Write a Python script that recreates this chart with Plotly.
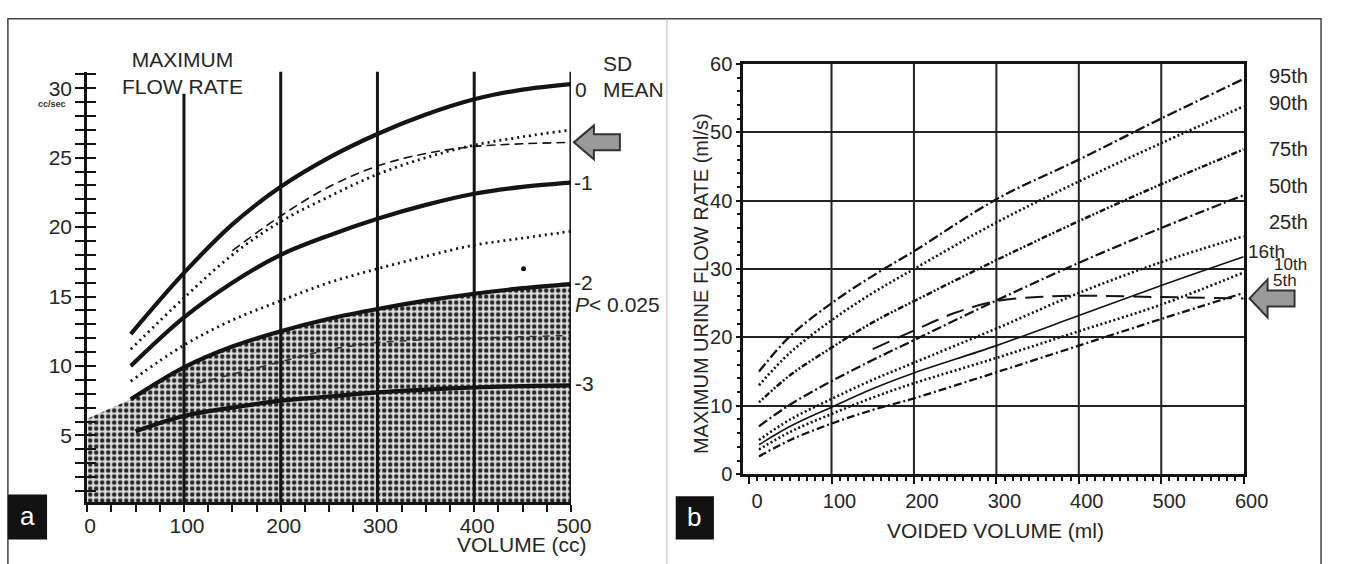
import plotly.graph_objects as go

W, H = 1348, 564
FONT = "Liberation Sans, Arial, sans-serif"
INK = "#141414"
TXT = "#262626"

# ---------------- Panel a data (volume cc -> max flow cc/sec) ----------------
vol_a = [45, 100, 150, 200, 250, 300, 350, 400, 450, 500]
sd0_mean = [12.3, 16.7, 20.2, 22.9, 25.0, 26.7, 28.1, 29.2, 29.9, 30.3]
sd_minus1 = [10.0, 13.5, 16.0, 18.0, 19.4, 20.6, 21.6, 22.4, 22.9, 23.2]
sd_minus2 = [7.6, 9.9, 11.4, 12.5, 13.4, 14.1, 14.7, 15.2, 15.6, 15.9]
vol_a3 = [50, 100, 150, 200, 250, 300, 350, 400, 450, 500]
sd_minus3 = [5.3, 6.4, 7.0, 7.5, 7.8, 8.1, 8.3, 8.45, 8.55, 8.6]
dotted_upper = [11.2, 14.9, 18.0, 20.4, 22.2, 23.8, 25.0, 25.9, 26.5, 27.0]
dotted_lower = [8.9, 11.5, 13.3, 14.7, 16.0, 17.0, 17.9, 18.7, 19.2, 19.7]
vol_dash_a = [150, 200, 250, 300, 350, 400, 450, 500]
dashed_a = [18.3, 20.8, 22.9, 24.4, 25.3, 25.8, 26.0, 26.1]
vol_inner = [100, 150, 200, 250, 300, 350, 400, 450, 500]
inner_dash = [8.5, 9.4, 10.3, 11.2, 11.7, 11.9, 12.0, 12.1, 12.2]
shade_lead_x = [0, 20]
shade_lead_y = [6.2, 6.8]
dot_x = [451]
dot_y = [17.0]
grid_a = [100, 200, 300, 400, 500]
xticks_a = [0, 100, 200, 300, 400, 500]
yticks_a = [5, 10, 15, 20, 25, 30]

# ---------------- Panel b data (voided volume ml -> Qmax ml/s) ----------------
vol_b = [12, 50, 100, 150, 200, 300, 400, 500, 600]
p95 = [15.0, 20.2, 25.0, 29.0, 32.6, 40.2, 46.0, 52.0, 57.8]
p90 = [13.0, 17.8, 22.5, 26.5, 30.0, 36.8, 42.8, 48.4, 53.8]
p75 = [10.5, 14.5, 18.5, 22.2, 25.3, 31.3, 37.0, 42.4, 47.5]
p50 = [7.0, 10.2, 13.6, 16.7, 19.6, 25.4, 30.9, 36.0, 40.8]
p25 = [5.0, 8.0, 11.0, 13.8, 16.3, 21.3, 26.5, 31.0, 34.8]
p16 = [4.3, 7.0, 9.8, 12.5, 14.8, 18.8, 23.2, 27.6, 31.8]
p10 = [3.6, 6.2, 8.8, 11.2, 13.3, 17.0, 20.9, 24.8, 29.5]
p05 = [2.6, 5.0, 7.4, 9.4, 11.1, 14.9, 18.8, 22.7, 26.5]
vol_dash_b = [150, 200, 250, 300, 350, 400, 500, 600]
dashed_b = [18.3, 21.0, 23.6, 25.3, 25.9, 26.1, 25.9, 25.7]
grid_b = [100, 200, 300, 400, 500]
xticks_b = [0, 100, 200, 300, 400, 500, 600]


def px(x):
    return x / W


def py(y):
    return 1 - y / H


fig = go.Figure()

# ---- panel a traces ----
fig.add_trace(go.Scatter(
    x=shade_lead_x + vol_a, y=shade_lead_y + sd_minus2, mode="lines",
    line=dict(width=0), fill="tozeroy",
    fillpattern=dict(shape=".", size=6, solidity=0.45, fgcolor="#262626",
                     bgcolor="#dedede", fillmode="replace"),
    xaxis="x", yaxis="y", hoverinfo="skip"))
fig.add_trace(go.Scatter(x=vol_inner, y=inner_dash, mode="lines",
                         line=dict(color="#333", width=1.5, dash="7px,6px"),
                         xaxis="x", yaxis="y"))
for ys, xs in [(sd0_mean, vol_a), (sd_minus1, vol_a), (sd_minus2, vol_a), (sd_minus3, vol_a3)]:
    fig.add_trace(go.Scatter(x=xs, y=ys, mode="lines", line=dict(color=INK, width=4.2, shape="spline"),
                             xaxis="x", yaxis="y"))
for ys in [dotted_upper, dotted_lower]:
    fig.add_trace(go.Scatter(x=vol_a, y=ys, mode="lines",
                             line=dict(color=INK, width=2.8, dash="2px,4px", shape="spline"),
                             xaxis="x", yaxis="y"))
fig.add_trace(go.Scatter(x=vol_dash_a, y=dashed_a, mode="lines",
                         line=dict(color=INK, width=1.6, dash="9px,5px", shape="spline"),
                         xaxis="x", yaxis="y"))
fig.add_trace(go.Scatter(x=dot_x, y=dot_y, mode="markers", marker=dict(color=INK, size=5),
                         xaxis="x", yaxis="y3"))

# ---- panel b traces ----
styles_b = [
    (p95, "10px,3px,2px,3px", 2.3),
    (p90, "2px,2.5px", 2.6),
    (p75, "2px,2px,2px,2px,6px,2px", 2.5),
    (p50, "10px,3px,2px,3px", 2.3),
    (p25, "2px,2.5px", 2.6),
    (p16, "solid", 1.6),
    (p10, "2px,2.5px", 2.6),
    (p05, "8px,3px,2px,3px", 2.3),
]
for ys, dash, wd in styles_b:
    fig.add_trace(go.Scatter(x=vol_b, y=ys, mode="lines",
                             line=dict(color=INK, width=wd, dash=dash, shape="spline"),
                             xaxis="x2", yaxis="y2"))
fig.add_trace(go.Scatter(x=vol_dash_b, y=dashed_b, mode="lines",
                         line=dict(color=INK, width=2, dash="18px,9px", shape="spline"),
                         xaxis="x2", yaxis="y2"))

shapes = []
# panel a vertical grid lines
for g in grid_a:
    shapes.append(dict(type="line", xref="x", yref="y", x0=g, x1=g, y0=0.2,
                       y1=29.6 if g == 100 else 31.2,
                       line=dict(color=INK, width=3), layer="above"))
# panel b vertical grid lines
for g in grid_b:
    shapes.append(dict(type="line", xref="x2", yref="y2", x0=g, x1=g, y0=0, y1=60,
                       line=dict(color="#222", width=2), layer="below"))

# block arrows (tip points at the dashed curve's end value)
arrow_path = "M 0 0 L 20 17 L 20 8 L 46 8 L 46 -8 L 20 -8 L 20 -17 Z"
shapes.append(dict(type="path", xref="paper", yref="y", xsizemode="pixel", ysizemode="pixel",
                   xanchor=px(583), yanchor=dashed_a[-1], path=arrow_path,
                   fillcolor="#9a9a9a", line=dict(color="#333", width=2), layer="above"))
shapes.append(dict(type="path", xref="paper", yref="y2", xsizemode="pixel", ysizemode="pixel",
                   xanchor=px(1273), yanchor=dashed_b[-1],
                   path="M 0 0 L 18 19 L 18 8 L 45 8 L 45 -8 L 18 -8 L 18 -19 Z",
                   fillcolor="#9a9a9a", line=dict(color="#333", width=2), layer="above"))

# outer frame + divider + panel letter boxes
shapes.append(dict(type="rect", xref="paper", yref="paper", x0=px(5), x1=px(1346), y0=py(600), y1=py(8),
                   line=dict(color="#444", width=1.5)))
shapes.append(dict(type="line", xref="paper", yref="paper", x0=px(678), x1=px(678), y0=py(600), y1=py(8),
                   line=dict(color="#bbb", width=1)))
shapes.append(dict(type="rect", xref="paper", yref="paper", x0=px(5), x1=px(45), y0=py(550), y1=py(503),
                   fillcolor="#111", line=dict(width=0)))
shapes.append(dict(type="rect", xref="paper", yref="paper", x0=px(687), x1=px(726), y0=py(550), y1=py(505),
                   fillcolor="#111", line=dict(width=0)))


def ann(text, x, y, size=21, xanchor="center", color=TXT, **kw):
    d = dict(text=text, x=px(x), y=py(y), xref="paper", yref="paper", showarrow=False,
             xanchor=xanchor, yanchor="middle", font=dict(family=FONT, size=size, color=color))
    d.update(kw)
    return d


annotations = [
    ann("MAXIMUM<br>FLOW RATE", 183, 65),
    ann("SD", 611, 55, xanchor="left"),
    ann("0", 582, 82, xanchor="left"),
    ann("MEAN", 611, 82, xanchor="left"),
    ann("-1", 581, 178, xanchor="left"),
    ann("-2", 581, 283, xanchor="left"),
    ann("<i>P</i>< 0.025", 582, 305, xanchor="left"),
    ann("-3", 582, 388, xanchor="left"),
    ann("<b>cc/sec</b>", 50, 97, size=9, color="#333"),
    ann("VOLUME (cc)", 530, 555),
    ann("a", 25, 526, size=26, color="white"),
    ann("b", 706, 527, size=26, color="white"),
    ann("MAXIMUM URINE FLOW RATE (ml/s)", 713, 284, size=20, textangle=-90),
    ann("VOIDED VOLUME (ml)", 1014, 541, size=21),
    ann("95th", 1291, 68, size=20, xanchor="left"),
    ann("90th", 1291, 96, size=20, xanchor="left"),
    ann("75th", 1291, 144, size=20, xanchor="left"),
    ann("50th", 1291, 182, size=20, xanchor="left"),
    ann("25th", 1291, 220, size=20, xanchor="left"),
    ann("16th", 1269, 250, size=19, xanchor="left"),
    ann("10th", 1296, 264, size=17, xanchor="left"),
    ann("5th", 1295, 280, size=17, xanchor="left"),
]

tickfont = dict(family=FONT, size=21, color=TXT)
tickfont_b = dict(family=FONT, size=20, color=TXT)

dom_xa = [px(86), px(580)]
dom_ya = [py(511), py(63)]
dom_xb = [px(756), px(1267)]
dom_yb = [py(482), py(55)]

fig.update_layout(
    width=W, height=H, margin=dict(l=0, r=0, t=0, b=0),
    paper_bgcolor="white", plot_bgcolor="rgba(0,0,0,0)", showlegend=False,
    font=dict(family=FONT, color=TXT),
    xaxis=dict(domain=dom_xa, range=[0, 500], anchor="y", tickvals=xticks_a,
               ticks="outside", ticklen=7, tickwidth=2, tickcolor=INK,
               minor=dict(dtick=25, tick0=0, ticks="outside", ticklen=7, tickwidth=2, tickcolor=INK),
               showline=True, linewidth=3, linecolor=INK, showgrid=False, zeroline=False,
               tickfont=tickfont, ticklabelshift=3, ticklabelstandoff=-4),
    yaxis=dict(domain=dom_ya, range=[0.2, 31.2], anchor="x", tickvals=yticks_a,
               ticks="outside", ticklen=9, tickwidth=2, tickcolor=INK,
               minor=dict(dtick=1, tick0=0, ticks="outside", ticklen=9, tickwidth=2, tickcolor=INK),
               showline=True, linewidth=3, linecolor=INK, showgrid=False, zeroline=False,
               tickfont=tickfont, ticklabelstandoff=-1),
    yaxis3=dict(domain=dom_ya, range=[0.2, 31.2], anchor="x", overlaying="y", side="left",
                tickvals=yticks_a, ticks="inside", ticklen=9, tickwidth=2, tickcolor=INK,
                minor=dict(dtick=1, tick0=0, ticks="inside", ticklen=9, tickwidth=2, tickcolor=INK),
                showticklabels=False, showline=False, showgrid=False, zeroline=False),
    xaxis2=dict(domain=dom_xb, range=[-7, 600], anchor="y2", tickvals=xticks_b,
                ticks="outside", ticklen=7, tickwidth=2, tickcolor=INK,
                minor=dict(dtick=10, tick0=0, ticks="outside", ticklen=4, tickwidth=2, tickcolor=INK),
                showline=True, linewidth=3, linecolor=INK, mirror=True, showgrid=False, zeroline=False,
                tickfont=tickfont_b, ticklabelshift=8),
    yaxis2=dict(domain=dom_yb, range=[0, 60], anchor="x2", dtick=10,
                ticks="outside", ticklen=4, tickwidth=2, tickcolor=INK,
                minor=dict(dtick=2, ticks="outside", ticklen=3, tickwidth=2, tickcolor=INK),
                showline=True, linewidth=3, linecolor=INK, mirror=True,
                showgrid=True, gridcolor="#222", gridwidth=2, zeroline=False,
                tickfont=tickfont_b),
    shapes=shapes, annotations=annotations,
)

fig.write_html("out.html")
